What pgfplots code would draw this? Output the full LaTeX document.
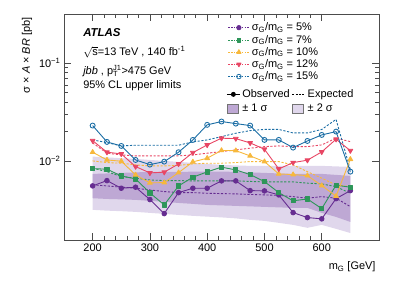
\documentclass[border=0pt]{standalone}
\usepackage{fontspec}
\setmainfont{Liberation Sans}
\usepackage{pgfplots}
\usepackage{pgfplotstable}
\pgfplotsset{compat=1.18}
\usepgfplotslibrary{fillbetween}

\definecolor{cP}{RGB}{102,45,145}
\definecolor{cG}{RGB}{46,150,90}
\definecolor{cO}{RGB}{247,184,60}
\definecolor{cR}{RGB}{232,70,100}
\definecolor{cB}{RGB}{28,110,165}
\definecolor{bandA}{RGB}{190,168,212}
\definecolor{bandB}{RGB}{224,215,236}

\pgfplotsset{
  obsleg/.style={legend image code/.code={%
    \draw[mark repeat=2,mark phase=2,##1] plot coordinates {(0bp,0bp) (6.5bp,0bp) (13bp,0bp)};}},
  expleg/.style={legend image code/.code={%
    \draw[##1] (0bp,0bp) -- (13bp,0bp);}},
  boxAleg/.style={legend image code/.code={%
    \draw[fill=bandA, draw=black!55, line width=0.6pt] (0bp,-4.5bp) rectangle (11bp,4.5bp);}},
  boxBleg/.style={legend image code/.code={%
    \draw[fill=bandB, draw=black!55, line width=0.6pt] (0bp,-4.5bp) rectangle (11bp,4.5bp);}},
  longleg/.style={legend image code/.code={%
    \draw[mark repeat=2,mark phase=2,##1] plot coordinates {(0bp,0bp) (10.5bp,0bp) (21bp,0bp)};}},
}

\pgfplotstableread{
x p g o r b
200 0.0056 0.0084 0.01236 0.01622 0.0231
225 0.00634 0.00829 0.0103 0.01236 0.01574
250 0.0053 0.00708 0.0100 0.01187 0.01432
275 0.00543 0.0066 0.00725 0.00881 0.0103
300 0.00406 0.00475 0.00601 0.0076 0.00923
325 0.00292 0.00358 0.00605 0.00773 0.0099
350 0.00478 0.0056 0.00765 0.00938 0.01236
375 0.0053 0.00687 0.00984 0.01224 0.01649
400 0.0053 0.00778 0.01073 0.01466 0.0235
425 0.0063 0.0087 0.01288 0.01717 0.0254
450 0.0063 0.00815 0.01282 0.01701 0.0242
475 0.00501 0.0073 0.01133 0.01537 0.0231
500 0.00498 0.0062 0.0099 0.01325 0.0165
525 0.00453 0.00478 0.00742 0.00834 0.0165
550 0.00299 0.00394 0.0073 0.00968 0.01377
575 0.00266 0.00412 0.00713 0.01024 0.0161
600 0.00258 0.00328 0.00564 0.01245 0.01855
625 0.00415 0.00569 0.0044 0.01675 0.02005
650 0.00501 0.00543 0.01048 0.01282 0.00783
}\obs

\pgfplotstableread{
x p g o r b
200 0.00573 0.00849 0.01007 0.01537 0.01649
225 0.0056 0.00783 0.00968 0.01207 0.01549
250 0.00543 0.00697 0.00954 0.01159 0.01433
275 0.0053 0.00671 0.00917 0.01133 0.01456
300 0.00509 0.00644 0.00896 0.01133 0.01456
325 0.0049 0.00634 0.00896 0.01133 0.01456
350 0.00478 0.00634 0.00906 0.01133 0.01456
375 0.00478 0.0063 0.00939 0.01159 0.01574
400 0.00471 0.0063 0.00954 0.01207 0.01649
425 0.00467 0.0063 0.00954 0.01253 0.01782
450 0.00464 0.0063 0.00968 0.01304 0.01931
475 0.00458 0.00622 0.00991 0.01358 0.02052
500 0.00453 0.00615 0.00991 0.01409 0.0211
525 0.00448 0.00615 0.00991 0.01432 0.0211
550 0.00435 0.00615 0.00917 0.01409 0.01944
575 0.00419 0.00597 0.00783 0.01409 0.01944
600 0.00435 0.00587 0.00671 0.01466 0.0211
625 0.00419 0.0055 0.00573 0.01717 0.02671
650 0.00344 0.00471 0.0055 0.01585 0.00815
}\expd

\pgfplotstableread{
x u2 u1 d1 d2
200 0.01114 0.00742 0.00419 0.00319
225 0.01094 0.0075 0.00412 0.00313
250 0.01073 0.0076 0.00408 0.00309
275 0.01056 0.00769 0.00403 0.00304
300 0.0103 0.00778 0.00394 0.00297
325 0.01007 0.00778 0.00385 0.0029
350 0.00984 0.00778 0.00375 0.00283
375 0.00961 0.00782 0.00367 0.00277
400 0.00938 0.00784 0.00358 0.00272
425 0.00917 0.00784 0.00354 0.00267
450 0.00906 0.00778 0.0035 0.00261
475 0.00896 0.00769 0.00346 0.00252
500 0.00896 0.0076 0.00342 0.00246
525 0.00896 0.0075 0.00338 0.00235
550 0.00896 0.00742 0.00334 0.00224
575 0.00896 0.00742 0.00334 0.00209
600 0.00896 0.00742 0.00297 0.00224
625 0.00885 0.00725 0.0027 0.00204
650 0.00875 0.00708 0.0024 0.00185
}\band

\newcommand{\fnt}{\fontsize{11}{13}\selectfont}

\begin{document}
\begin{tikzpicture}
\pgfplotsset{
  every axis/.append style={
    scale only axis, width=315bp, height=226bp,
    xmin=150, xmax=700, ymin=0.00157, ymax=0.318,
  },
}
\begin{axis}[
  ymode=log,
  font=\fnt,
  /pgf/number format/assume math mode=true,
  xtick={200,300,400,500,600},
  minor x tick num=4,
  ytick={0.01,0.1},
  yticklabels={10\textsuperscript{−2},10\textsuperscript{−1}},
  tick align=inside,
  major tick length=7bp, minor tick length=4bp,
  tick style={color=black!70, line width=0.5pt},
  axis line style={black!70, line width=0.6pt},
  xlabel={m\textsubscript{G} [GeV]},
  x label style={at={(axis description cs:1,0)}, anchor=north east, yshift=-18bp},
  ylabel={σ × \textit{A} × \textit{BR} [pb]},
  y label style={at={(axis description cs:-0.09,1)}, anchor=south east},
  legend style={at={(axis description cs:0.52,0.97)}, anchor=north west,
    draw=none, fill=none, font=\fnt, inner sep=0pt, row sep=-1.2pt,
    cells={anchor=west}},
  longleg,
  every axis plot/.append style={line join=round},
]
% bands
\addplot[name path=u2, draw=none, forget plot] table[x=x,y=u2] {\band};
\addplot[name path=d2, draw=none, forget plot] table[x=x,y=d2] {\band};
\addplot[bandB, draw=none, forget plot] fill between[of=u2 and d2];
\addplot[name path=u1, draw=none, forget plot] table[x=x,y=u1] {\band};
\addplot[name path=d1, draw=none, forget plot] table[x=x,y=d1] {\band};
\addplot[bandA, draw=none, forget plot] fill between[of=u1 and d1];

% expected
\pgfplotsset{expst/.style={line width=0.9pt, dash pattern=on 2.2pt off 1.6pt, no marks, forget plot}}
\addplot[cP, expst] table[x=x,y=p] {\expd};
\addplot[cG, expst] table[x=x,y=g] {\expd};
\addplot[cO, expst] table[x=x,y=o] {\expd};
\addplot[cR, expst] table[x=x,y=r] {\expd};
\addplot[cB, expst] table[x=x,y=b] {\expd};

% observed
\pgfplotsset{obsst/.style={line width=0.9pt, mark size=2.3pt, forget plot}}
\addplot[cP, obsst, mark=*] table[x=x,y=p] {\obs};
\addplot[cG, obsst, mark=square*, mark size=2.1pt] table[x=x,y=g] {\obs};
\addplot[cO, obsst, mark=triangle*, mark size=2.7pt] table[x=x,y=o] {\obs};
\addplot[cR, obsst, mark=triangle*, mark size=2.7pt, mark options={rotate=180}] table[x=x,y=r] {\obs};
\addplot[cB, obsst, mark=o, mark size=2.5pt] table[x=x,y=b] {\obs};

% legend images
\addlegendimage{cP, line width=0.8pt, dash pattern=on 1.5pt off 1.2pt, mark=*, mark size=2.2pt, mark options={solid}}
\addlegendentry{σ\textsubscript{G}/m\textsubscript{G} = 5\%}
\addlegendimage{cG, line width=0.8pt, dash pattern=on 1.5pt off 1.2pt, mark=square*, mark size=2pt, mark options={solid}}
\addlegendentry{σ\textsubscript{G}/m\textsubscript{G} = 7\%}
\addlegendimage{cO, line width=0.8pt, dash pattern=on 1.5pt off 1.2pt, mark=triangle*, mark size=2.5pt, mark options={solid}}
\addlegendentry{σ\textsubscript{G}/m\textsubscript{G} = 10\%}
\addlegendimage{cR, line width=0.8pt, dash pattern=on 1.5pt off 1.2pt, mark=triangle*, mark size=2.5pt, mark options={solid, rotate=180}}
\addlegendentry{σ\textsubscript{G}/m\textsubscript{G} = 12\%}
\addlegendimage{cB, line width=0.8pt, dash pattern=on 1.5pt off 1.2pt, mark=o, mark size=2.3pt, mark options={solid}}
\addlegendentry{σ\textsubscript{G}/m\textsubscript{G} = 15\%}

\node[anchor=west, font=\fontsize{11.5}{13}\selectfont, inner ysep=1pt] at (axis description cs:0.05,0.918) {\textbf{\textit{ATLAS}}};
\node[anchor=west, font=\fnt, inner ysep=1pt] at (axis description cs:0.05,0.832) {$\sqrt{\mbox{s}}$=13 TeV , 140 fb\textsuperscript{-1}};
\node[anchor=west, font=\fnt, inner ysep=1pt] at (axis description cs:0.05,0.748) {\textit{jbb} , $\mbox{p}_{\mbox{\fontsize{7.5}{8}\selectfont T}}^{\mbox{\fontsize{7.5}{8}\selectfont J1}}$>475 GeV};
\node[anchor=west, font=\fnt, inner ysep=1pt] at (axis description cs:0.05,0.684) {95\% CL upper limits};
\end{axis}

\begin{axis}[
  hide axis,
  legend columns=2,
  legend style={at={(axis description cs:0.515,0.675)}, anchor=north west,
    draw=none, fill=none, font=\fnt, inner sep=0pt, row sep=1pt,
    cells={anchor=west}},
]
\addlegendimage{black, line width=0.9pt, mark=*, mark size=2pt, obsleg}
\addlegendentry{Observed\hspace{2bp}}
\addlegendimage{black, line width=0.9pt, dash pattern=on 2pt off 1.3pt, expleg}
\addlegendentry{Expected}
\addlegendimage{boxAleg}
\addlegendentry{± 1 σ}
\addlegendimage{boxBleg}
\addlegendentry{± 2 σ}
\end{axis}

\path[use as bounding box] (-64bp,-46bp) rectangle (335bp,240bp);
\end{tikzpicture}
\end{document}
